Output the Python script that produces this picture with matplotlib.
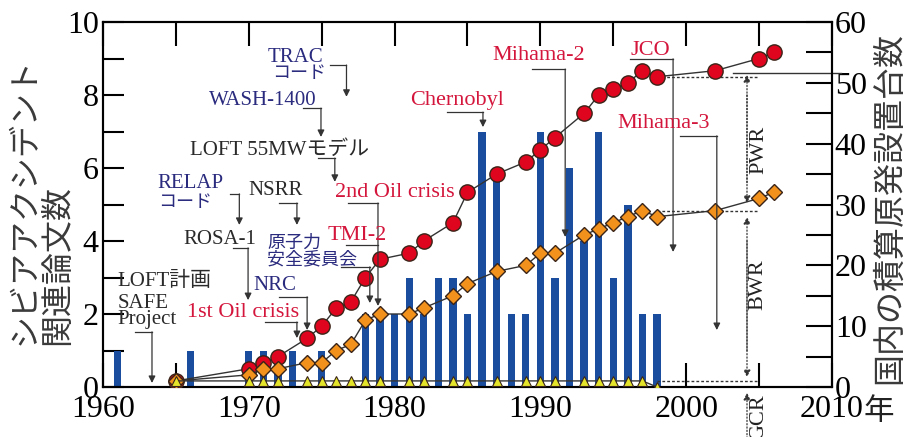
import matplotlib.pyplot as plt
from matplotlib.ticker import MultipleLocator

plt.rcParams['font.family'] = ['Liberation Serif', 'Noto Sans CJK JP']

# severe accident papers per year (left axis)
paper_years = [1961, 1966, 1970, 1971, 1972, 1973, 1975, 1978, 1979, 1980,
               1981, 1982, 1983, 1984, 1985, 1986, 1987, 1988, 1989, 1990,
               1991, 1992, 1993, 1994, 1995, 1996, 1997, 1998]
paper_counts = [1, 1, 1, 1, 1, 1, 1, 2, 2, 2,
                3, 2, 3, 3, 2, 7, 6, 2, 2, 7,
                3, 6, 4, 7, 3, 5, 2, 2]

# cumulative number of reactors in Japan (right axis), stacked GCR < BWR < PWR
plant_years = [1965, 1970, 1971, 1972, 1974, 1975, 1976, 1977, 1978, 1979,
               1981, 1982, 1984, 1985, 1987, 1989, 1990, 1991, 1993, 1994,
               1995, 1996, 1997, 1998, 2002, 2005, 2006]
total_plants = [1, 3, 4, 5, 8, 10, 13, 14, 18, 21,
                22, 24, 27, 32, 35, 37, 39, 41, 45, 48,
                49, 50, 52, 51, 52, 54, 55]
gcr_bwr_plants = [1, 2, 3, 3, 4, 4, 6, 7, 11, 12,
                  12, 13, 15, 17, 19, 20, 22, 22, 25, 26,
                  27, 28, 29, 28, 29, 31, 32]
gcr_plants = [1, 1, 1, 1, 1, 1, 1, 1, 1, 1,
              1, 1, 1, 1, 1, 1, 1, 1, 1, 1,
              1, 1, 1, 0]

BLUE = '#1b4d9e'
RED = '#e0051e'
ORANGE = '#f2921c'
YELLOW = '#e4e42a'
EDGE = '#3a2418'
INK = '#333333'
TXT_RED = '#d4163c'
TXT_NAVY = '#2a2a7e'
TXT_BLK = '#2a2a2a'

W, H = 905, 437
fig = plt.figure(figsize=(W / 100, H / 100), dpi=100)
ax = fig.add_axes([103 / W, 1 - 387 / H, 729 / W, 365 / H])
ax2 = ax.twinx()

ax.bar(paper_years, paper_counts, width=0.5, color=BLUE, zorder=2)

ax2.plot(plant_years, total_plants, '-o', color=INK, lw=1, ms=11,
         mfc=RED, mec=EDGE, mew=1, zorder=3)
ax2.plot(plant_years, gcr_bwr_plants, '-D', color=INK, lw=1, ms=8,
         mfc=ORANGE, mec=EDGE, mew=1, zorder=4)
ax2.plot(plant_years[:len(gcr_plants)], gcr_plants, '-^', color=INK, lw=1,
         ms=7, mfc=YELLOW, mec=EDGE, mew=0.8, zorder=5)

ax.set_xlim(1960, 2010)
ax.set_ylim(0, 10)
ax2.set_ylim(0, 60)

ax.xaxis.set_major_locator(MultipleLocator(10))
ax.xaxis.set_minor_locator(MultipleLocator(5))
ax.yaxis.set_major_locator(MultipleLocator(2))
ax.yaxis.set_minor_locator(MultipleLocator(1))
ax2.yaxis.set_major_locator(MultipleLocator(10))
ax2.yaxis.set_minor_locator(MultipleLocator(5))

ax.tick_params(axis='x', which='both', direction='in', top=True, length=17,
               width=1.5, labelsize=23, pad=6)
ax.tick_params(axis='y', which='both', direction='in', length=15, width=1.5,
               labelsize=23, pad=3)
ax2.tick_params(axis='y', which='both', direction='in', length=19, width=1.5,
                labelsize=23, pad=2)
for a in (ax, ax2):
    for sp in a.spines.values():
        sp.set_linewidth(1.5)

# axis titles, written vertically
jp = 'Noto Sans CJK JP'
fig.text(25 / W, 1 - 345 / H, 'シビアアクシデント', rotation=90, ha='center',
         va='bottom', fontsize=23, family=jp, color='#3a3a3a')
fig.text(57 / W, 1 - 345 / H, '関連論文数', rotation=90, ha='center',
         va='bottom', fontsize=23, family=jp, color='#3a3a3a')
fig.text(889 / W, 1 - 208 / H, '国内の積算原発設置台数', rotation=90,
         ha='center', va='center', fontsize=23, family=jp, color='#3a3a3a')
fig.text(864 / W, 1 - 412 / H, '年', ha='left', va='center', fontsize=22,
         family=jp, color='#222222')

L = ax.transData


def note(x, y, s, color, size=15):
    ax2.text(x, y, s, transform=L, color=color, fontsize=size,
             ha='left', va='center', zorder=6)


def leader(path, arrow=True, ls='-'):
    xs = [p[0] for p in path]
    ys = [p[1] for p in path]
    end = -1 if arrow else len(path)
    ax2.plot(xs[:end], ys[:end], color=INK, lw=0.9, ls=ls, transform=L,
             zorder=6, clip_on=False)
    if arrow:
        ax2.annotate('', xy=path[-1], xytext=path[-2], xycoords=L,
                     textcoords=L, zorder=6, annotation_clip=False,
                     arrowprops=dict(arrowstyle='-|>', color=INK, lw=0.9,
                                     ls=ls, mutation_scale=10,
                                     shrinkA=0, shrinkB=0))


# research programmes and events
note(1971.3, 9.02, 'TRAC', TXT_NAVY)
note(1971.6, 8.6, 'コード', TXT_NAVY, 13)
leader([(1975.6, 8.82), (1976.7, 8.82), (1976.7, 7.95)])

note(1967.3, 7.84, 'WASH-1400', TXT_NAVY)
leader([(1973.7, 7.64), (1974.95, 7.64), (1974.95, 6.85)])

note(1966.0, 6.47, 'LOFT 55MWモデル', TXT_BLK)
leader([(1974.75, 6.27), (1975.9, 6.27), (1975.9, 5.62)])

note(1963.7, 5.58, 'RELAP', TXT_NAVY)
note(1963.8, 5.05, 'コード', TXT_NAVY, 13)
leader([(1968.7, 5.29), (1969.35, 5.29), (1969.35, 4.44)])

note(1969.95, 5.37, 'NSRR', TXT_BLK)
leader([(1972.1, 5.04), (1973.3, 5.04), (1973.3, 4.44)])

note(1975.9, 5.34, '2nd Oil crisis', TXT_RED, 16)
leader([(1976.8, 5.04), (1978.86, 5.04), (1978.86, 2.22)])

note(1965.5, 4.03, 'ROSA-1', TXT_BLK)
leader([(1968.9, 3.81), (1969.95, 3.81), (1969.95, 2.38)])

note(1971.25, 3.95, '原子力', TXT_NAVY, 13)
note(1971.25, 3.48, '安全委員会', TXT_NAVY, 13)
leader([(1976.3, 3.29), (1978.3, 3.29), (1978.3, 2.30)])

note(1975.4, 4.16, 'TMI-2', TXT_RED, 16)
leader([(1976.7, 3.89), (1978.86, 3.89)], arrow=False)

note(1965.75, 2.05, '1st Oil crisis', TXT_RED, 16)
leader([(1971.1, 1.78), (1973.3, 1.78), (1973.3, 1.34)])

note(1970.3, 2.77, 'NRC', TXT_NAVY)
leader([(1972.1, 2.47), (1974.0, 2.47), (1974.0, 1.56)])

note(1961.0, 2.88, 'LOFT計画', TXT_BLK)
note(1961.0, 2.30, 'SAFE', TXT_BLK)
note(1961.0, 1.84, 'Project', TXT_BLK)
leader([(1962.2, 1.51), (1963.36, 1.51), (1963.36, 0.11)])

note(1981.05, 7.86, 'Chernobyl', TXT_RED, 16)
leader([(1983.6, 7.53), (1986.06, 7.53), (1986.06, 7.12)])

note(1986.7, 9.07, 'Mihama-2', TXT_RED, 16)
leader([(1989.4, 8.71), (1991.7, 8.71), (1991.7, 4.11)])

note(1996.15, 9.23, 'JCO', TXT_RED, 16)
leader([(1996.15, 8.99), (1999.1, 8.99), (1999.1, 3.70)])

note(1995.25, 7.21, 'Mihama-3', TXT_RED, 16)
leader([(1999.6, 6.88), (2002.1, 6.88), (2002.1, 1.56)])

# reactor-type brackets at the right
for lvl in (total_plants[-4], gcr_bwr_plants[-3], gcr_plants[0]):
    ax2.plot([1998, 2005], [lvl, lvl], color=INK, lw=1, ls=(0, (2, 1.5)),
             zorder=2)
ax2.plot([2003.2, 2010.6], [51.6, 51.6], color=INK, lw=1, clip_on=False)

bx = 2004.17
leader([(bx, 5.6), (bx, 8.55)], ls=':')
leader([(bx, 8.0), (bx, 5.04)], ls=':')
leader([(bx, 1.0), (bx, 4.66)], ls=':')
leader([(bx, 4.0), (bx, 0.27)], ls=':')
leader([(bx, -1.4), (bx, -0.16)], ls=':')

ax2.text(2005.0, 6.5, 'PWR', transform=L, rotation=90, ha='center',
         va='center', fontsize=16, color='#222222')
ax2.text(2004.95, 2.8, 'BWR', transform=L, rotation=90, ha='center',
         va='center', fontsize=16, color='#222222')
ax2.text(2004.95, -0.2, 'GCR', transform=L, rotation=90, ha='center',
         va='top', fontsize=16, color='#222222', clip_on=False)

ax.set_xlim(1960, 2010)
ax.set_ylim(0, 10)
ax2.set_ylim(0, 60)

fig.savefig('out.png', dpi=100)
